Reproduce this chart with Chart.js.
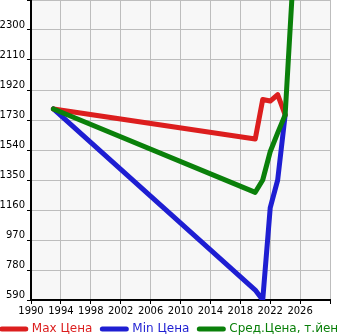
<!DOCTYPE html>
<html>
<head>
<meta charset="utf-8">
<script src="https://cdn.jsdelivr.net/npm/chart.js@4.4.0/dist/chart.umd.min.js"></script>
<style>
  html, body { margin: 0; padding: 0; background: #fff; overflow: hidden; }
  #wrap { position: relative; width: 420px; height: 335px; margin-left: -40px; }
</style>
</head>
<body>
<div id="wrap"><canvas id="Chart"></canvas></div>
<script>
// годы и значения
const maxYears = [1993, 2020, 2021, 2022, 2023, 2024];
const maxPrice = [1800, 1610, 1860, 1850, 1890, 1762];

const minYears = [1993, 2020, 2021, 2022, 2023, 2024];
const minPrice = [1800, 653, 590, 1173, 1350, 1762];

const avgYears = [1993, 2020, 2021, 2022, 2023, 2024, 2025];
const avgPrice = [1800, 1272, 1350, 1529, 1648, 1762, 2580];

const seriesNames = ['Max Цена', 'Min Цена', 'Сред.Цена, т.йен'];
const seriesColors = ['#dc1e1e', '#1e1ed2', '#0a800a'];

// оси
const xMin = 1990, xMax = 2030, xStep = 4;
const yMin = 590, yMax = 2490, yStep = 190;

function points(years, values) {
  return years.map((y, i) => ({ x: y, y: values[i] }));
}

Chart.defaults.font.family = 'DejaVu Sans';
Chart.defaults.color = '#000';

const plotBg = {
  id: 'plotBg',
  beforeDraw(chart) {
    const a = chart.chartArea;
    const ctx = chart.ctx;
    ctx.save();
    ctx.fillStyle = '#f7f7f7';
    ctx.fillRect(a.left, a.top, a.right - a.left, a.bottom - a.top);
    ctx.restore();
  }
};

// легенда ниже и компактнее, чем по умолчанию
const legendFit = {
  id: 'legendFit',
  beforeLayout(chart) {
    const lg = chart.legend;
    if (!lg || lg._tuned) return;
    const fit = lg.fit, drawItems = lg._draw;
    lg.fit = function () { fit.call(this); this.height = 18; };
    lg._draw = function () {
      this.ctx.save();
      this.ctx.translate(0, -4);
      drawItems.call(this);
      this.ctx.restore();
    };
    lg._tuned = true;
  }
};

const lineStyle = {
  fill: false,
  borderWidth: 5,
  pointRadius: 0,
  tension: 0,
  borderCapStyle: 'round',
  borderJoinStyle: 'round'
};

const data = {
  datasets: [
    Object.assign({ label: seriesNames[0], data: points(maxYears, maxPrice),
      borderColor: seriesColors[0], backgroundColor: seriesColors[0], order: 2 }, lineStyle),
    Object.assign({ label: seriesNames[1], data: points(minYears, minPrice),
      borderColor: seriesColors[1], backgroundColor: seriesColors[1], order: 3 }, lineStyle),
    Object.assign({ label: seriesNames[2], data: points(avgYears, avgPrice),
      borderColor: seriesColors[2], backgroundColor: seriesColors[2], order: 1 }, lineStyle)
  ]
};

const config = {
  type: 'line',
  data: data,
  plugins: [plotBg, legendFit],
  options: {
    responsive: true,
    maintainAspectRatio: false,
    animation: false,
    layout: { padding: { left: 0, right: 0, top: 0, bottom: 0 } },
    plugins: {
      tooltip: { enabled: false },
      legend: {
        position: 'bottom',
        labels: {
          usePointStyle: true,
          pointStyle: 'line',
          pointStyleWidth: 24,
          padding: 10,
          font: { size: 12 },
          generateLabels(chart) {
            return chart.data.datasets.map((ds, i) => ({
              text: ds.label,
              fillStyle: ds.borderColor,
              strokeStyle: ds.borderColor,
              fontColor: ds.borderColor,
              lineWidth: 5,
              lineCap: 'round',
              pointStyle: 'line',
              hidden: false,
              datasetIndex: i
            }));
          }
        }
      }
    },
    scales: {
      x: {
        type: 'linear',
        min: xMin,
        max: xMax,
        afterFit(scale) { scale.height = 17; },
        ticks: {
          stepSize: xStep,
          font: { size: 10 },
          maxRotation: 0,
          autoSkip: false,
          padding: 1,
          callback: v => (v >= xMax ? '' : String(v))
        },
        grid: { color: '#bdbdbd', lineWidth: 1, tickLength: 4, tickColor: '#000' },
        border: { color: '#000', width: 2 }
      },
      y: {
        min: yMin,
        max: yMax,
        afterFit(scale) {
          scale.width = 71;
          scale.paddingTop = 0;
          scale.paddingBottom = 0;
        },
        ticks: {
          stepSize: yStep,
          font: { size: 10 },
          padding: 2,
          labelOffset: -5,
          callback: v => (v >= yMax ? '' : String(v))
        },
        grid: { color: '#bdbdbd', lineWidth: 1, tickLength: 4, tickColor: '#000' },
        border: { color: '#000', width: 2 }
      },
      // пустая ось справа, только чтобы оставить место
      yRight: {
        position: 'right',
        afterFit(scale) { scale.width = 50; },
        ticks: { display: false },
        grid: { display: false, drawTicks: false },
        border: { display: false }
      }
    }
  }
};

var myChart = new Chart(document.getElementById('Chart'), config);
</script>
</body>
</html>
